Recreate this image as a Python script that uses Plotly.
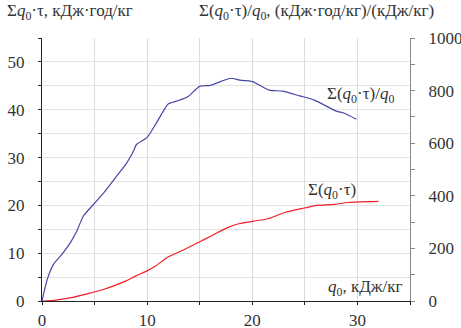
import plotly.graph_objects as go

# Blue: Σ(q0·τ)/q0 (right axis)
ratio_x = [0, 0.5, 1.1, 1.9, 2.7, 3.3, 3.95, 4.9, 6.0, 7.1, 8.05, 8.7, 9.0, 10.0, 10.9, 12.0, 12.8, 13.9,
           15.0, 16.0, 17.1, 18.0, 18.8, 19.8, 20.1, 21.6, 22.9, 24.5, 25.9, 28.0, 28.7, 29.9]
ratio_y = [0, 82, 140, 178, 222, 265, 324, 367, 418, 475, 524, 570, 596, 622, 678, 749, 760, 778,
           816, 820, 836, 847, 840, 836, 833, 802, 798, 780, 764, 722, 715, 691]

# Red: Σ(q0·τ) (left axis)
sum_x = [0, 1.3, 2.8, 4.1, 5.7, 7.9, 8.9, 10.0, 10.8, 11.9, 13.4, 15.0, 16.1, 17.7, 18.8, 20.1,
         21.5, 23.1, 25.1, 26.1, 27.8, 29.1, 31.1, 32.0]
sum_y = [0, 0.2, 0.7, 1.4, 2.3, 4.1, 5.2, 6.3, 7.3, 9.1, 10.6, 12.4, 13.6, 15.4, 16.2, 16.7,
         17.2, 18.5, 19.5, 20.0, 20.2, 20.6, 20.8, 20.85]

FONT = "Times New Roman, Liberation Serif, serif"
TXT = "#333333"
FSZ = 17

fig = go.Figure()
fig.add_trace(go.Scatter(x=sum_x, y=sum_y, mode="lines",
                         line=dict(color="#f0202a", width=1.2, shape="spline", smoothing=0.6),
                         yaxis="y", showlegend=False))
fig.add_trace(go.Scatter(x=ratio_x, y=ratio_y, mode="lines",
                         line=dict(color="#4646a6", width=1.2, shape="spline", smoothing=0.6),
                         yaxis="y2", showlegend=False))

tf = dict(family=FONT, size=FSZ, color=TXT)
fig.update_layout(
    width=461, height=328,
    margin=dict(l=42, r=51, t=38, b=27, autoexpand=False),
    paper_bgcolor="white", plot_bgcolor="white",
    font=tf,
    xaxis=dict(range=[0, 35], dtick=10, tick0=0, showline=True, linecolor="#222222", linewidth=1.3,
               ticks="outside", ticklen=3, tickcolor="#222222", showgrid=True, gridcolor="#dcdcdc",
               gridwidth=1, zeroline=False, ticklabelstandoff=0, automargin=False, tickfont=tf,
               minor=dict(dtick=5, tick0=0, ticks="outside", ticklen=3, tickcolor="#222222",
                          showgrid=True, gridcolor="#dcdcdc")),
    yaxis=dict(range=[0, 55], dtick=10, tick0=0, showline=True, linecolor="#222222", linewidth=1.3,
               ticks="outside", ticklen=3, tickcolor="#222222", showgrid=True, gridcolor="#e2e2e2",
               zeroline=False, ticklabelstandoff=10, automargin=False, tickfont=tf,
               minor=dict(dtick=5, tick0=0, ticks="outside", ticklen=3, tickcolor="#222222",
                          showgrid=True, gridcolor="#e2e2e2")),
    yaxis2=dict(range=[0, 1000], dtick=200, tick0=0, overlaying="y", side="right", showline=True,
                linecolor="#888888", linewidth=1.3, ticks="outside", ticklen=4, tickcolor="#888888",
                showgrid=False, zeroline=False, ticklabelstandoff=10, automargin=False, tickfont=tf,
                minor=dict(dtick=100, tick0=0, ticks="outside", ticklen=4, tickcolor="#888888",
                           showgrid=False)),
)

ann = dict(xref="paper", yref="paper", showarrow=False, font=tf,
           yanchor="middle", xanchor="left")
fig.add_annotation(x=-0.0997, y=1.10, text="Σ<i>q</i><sub>0</sub>·τ, кДж·год/кг", **ann)
fig.add_annotation(x=0.4217, y=1.10, text="Σ(<i>q</i><sub>0</sub>·τ)/<i>q</i><sub>0</sub>, (кДж·год/кг)/(кДж/кг)", **ann)
fig.add_annotation(x=0.769, y=0.785, text="Σ(<i>q</i><sub>0</sub>·τ)/<i>q</i><sub>0</sub>", **ann)
fig.add_annotation(x=0.7176, y=0.418, text="Σ(<i>q</i><sub>0</sub>·τ)", **ann)
fig.add_annotation(x=0.772, y=0.051, text="<i>q</i><sub>0</sub>, кДж/кг", **ann)

fig.write_html("out.html", config={"displayModeBar": False},
               post_script="document.body.style.margin='0';")
